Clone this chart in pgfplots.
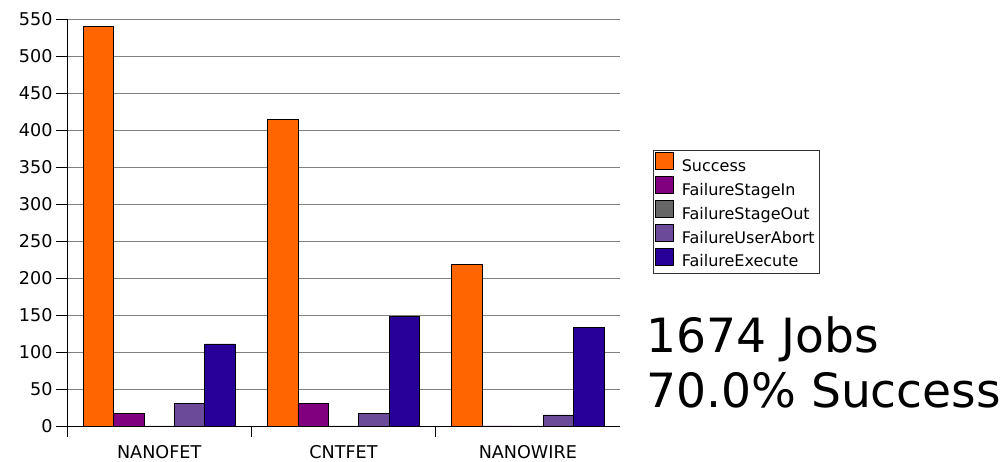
\documentclass[border=0pt]{standalone}
\usepackage{pgfplots}
\pgfplotsset{compat=1.18}
\usepackage{fontspec}
\setmainfont{DejaVu Sans}
\definecolor{cSucc}{HTML}{FF6600}
\definecolor{cIn}{HTML}{800080}
\definecolor{cOut}{HTML}{666666}
\definecolor{cAbort}{HTML}{6B4B99}
\definecolor{cExec}{HTML}{280099}
\begin{document}
\begin{tikzpicture}[x=1pt,y=1pt]
\path[use as bounding box] (0,0) rectangle (1006,462);
\begin{axis}[
  at={(67pt,36pt)}, anchor=south west,
  width=553pt, height=407pt, scale only axis,
  xmin=-0.5, xmax=2.5, ymin=0, ymax=550,
  ytick={0,50,...,550},
  ymajorgrids, grid style={draw=black!50, line width=0.8pt},
  axis x line*=bottom, axis y line*=left,
  axis line style={black, line width=0.8pt, -},
  tick style={black, line width=0.8pt},
  tick align=outside,
  major tick length=11pt,
  xtick={-0.5,0.5,1.5}, xticklabels={},
  extra x ticks={0,1,2},
  extra x tick labels={NANOFET,CNTFET,NANOWIRE},
  extra x tick style={major tick length=0pt, grid=none, tick style={draw=none},
    xticklabel style={anchor=base, yshift=-33pt}},
  tick label style={font=\fontsize{17.6}{21}\selectfont},
  /pgf/number format/assume math mode=true,
  ybar=0pt, bar width=0.165,
  legend style={at={(1.0597,0.678)}, anchor=north west,
    draw=black!80, line width=0.8pt,
    font=\fontsize{16}{18}\selectfont,
    inner xsep=2pt, inner ysep=1.5pt, row sep=0pt,
    cells={anchor=west},
    nodes={inner xsep=3pt, inner ysep=1pt, text height=13.5pt, text depth=3.5pt}},
  legend image code/.code={\path[draw=none,fill=none] (0pt,-3.5pt) rectangle (23pt,14pt);
    \draw[#1,draw=black,line width=0.8pt] (0pt,-3.5pt) rectangle (18pt,14pt);},
]
\addplot[fill=cSucc, draw=black, line width=0.6pt, bar shift=-0.33] coordinates {(0,540) (1,414) (2,218)};
\addplot[fill=cIn, draw=black, line width=0.6pt, bar shift=-0.165] coordinates {(0,17) (1,31) (2,0)};
\addplot[fill=cOut, draw=black, line width=0.6pt, bar shift=0] coordinates {(0,0) (1,0) (2,0)};
\addplot[fill=cAbort, draw=black, line width=0.6pt, bar shift=0.165] coordinates {(0,30) (1,17) (2,15)};
\addplot[fill=cExec, draw=black, line width=0.6pt, bar shift=0.33] coordinates {(0,111) (1,148) (2,133)};
\legend{Success,FailureStageIn,FailureStageOut,FailureUserAbort,FailureExecute}
\end{axis}
\node[anchor=base west, inner sep=0pt, font=\fontsize{47.2}{55}\selectfont] at (646,109) {1674 Jobs};
\node[anchor=base west, inner sep=0pt, font=\fontsize{47.2}{55}\selectfont] at (646,54) {70.0\% Success};
\end{tikzpicture}
\end{document}
